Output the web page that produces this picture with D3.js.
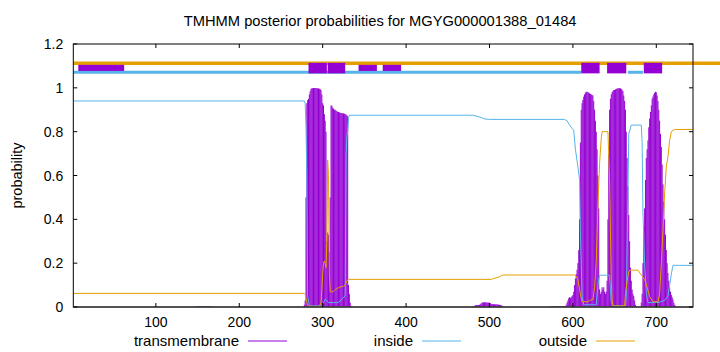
<!DOCTYPE html>
<html>
<head>
<meta charset="utf-8">
<script src="https://cdn.jsdelivr.net/npm/d3@7"></script>
<style>
  html, body { margin: 0; padding: 0; background: #fff; }
  svg { display: block; font-family: "Liberation Sans", Arial, sans-serif; }
</style>
</head>
<body>
<div id="chart"></div>
<script>
(function () {
  'use strict';

  // --- Data ---
  var title = 'TMHMM posterior probabilities for MGYG000001388_01484';
  var seqLength = 744;
  var xTicks = [100, 200, 300, 400, 500, 600, 700];
  var yTicks = [0, 0.2, 0.4, 0.6, 0.8, 1, 1.2];

  // Per-residue transmembrane probability, as [first residue, values...]
  var tmFaintStart = 148;
  var tmFaint = [0.002, 0.003, 0.003, 0.003, 0.003, 0.003, 0.003, 0.003, 0.003, 0.003,
                 0.003, 0.003, 0.003, 0.003, 0.003, 0.003, 0.003, 0.003, 0.003, 0.002];

  var tmAStart = 278;
  var tmA = [
    0.01, 0.03, 0.5, 0.93, 0.944, 0.95, 0.97, 0.985, 0.995, 0.998,
    0.998, 0.999, 0.999, 0.999, 0.999, 0.998, 0.998, 0.997, 0.996, 0.994,
    0.99, 0.97, 0.93, 0.92, 0.88, 0.85, 0.8, 0.3, 0.34, 0.33,
    0.25, 0.5, 0.92, 0.918, 0.91, 0.905, 0.9, 0.9, 0.895, 0.895,
    0.89, 0.89, 0.888, 0.886, 0.885, 0.885, 0.884, 0.883, 0.882, 0.88,
    0.878, 0.875, 0.87, 0.1, 0.06, 0.02, 0.005
  ];

  var tmBStart = 480;
  var tmB = [
    0.002, 0.003, 0.005, 0.008, 0.009, 0.009, 0.009, 0.009, 0.01, 0.012,
    0.016, 0.02, 0.02, 0.021, 0.021, 0.021, 0.021, 0.02, 0.02, 0.02,
    0.019, 0.017, 0.015, 0.013, 0.013, 0.013, 0.012, 0.012, 0.012, 0.012,
    0.011, 0.011, 0.01, 0.009, 0.008, 0.006, 0.003, 0.001
  ];

  var tmCStart = 574;
  var tmC = [
    0.004, 0.004, 0.004, 0.004, 0.004, 0.004, 0.004, 0.004, 0.004, 0.004,
    0.004, 0.004, 0.004, 0.004, 0.004, 0.004, 0.004, 0.004, 0.01, 0.02,
    0.03, 0.04, 0.045, 0.04, 0.045, 0.05, 0.055, 0.07, 0.1, 0.13,
    0.15, 0.17, 0.2, 0.26, 0.4, 0.75, 0.9, 0.93, 0.945, 0.96,
    0.97, 0.978, 0.982, 0.982, 0.98, 0.978, 0.975, 0.972, 0.97, 0.968,
    0.965, 0.94, 0.9, 0.85, 0.8, 0.72, 0.6, 0.45, 0.08, 0.06,
    0.07, 0.09, 0.08, 0.09, 0.07, 0.06, 0.07, 0.12, 0.4, 0.7,
    0.9, 0.95, 0.97, 0.98, 0.985, 0.99, 0.99, 0.993, 0.995, 0.997,
    0.998, 0.998, 0.998, 0.998, 0.995, 0.99, 0.985, 0.965, 0.94, 0.9,
    0.8, 0.68, 0.55, 0.42, 0.3, 0.18, 0.12, 0.08, 0.06, 0.05,
    0.03, 0.01, 0.003, 0, 0, 0, 0, 0, 0.02, 0.06,
    0.2, 0.37, 0.45, 0.58, 0.68, 0.72, 0.76, 0.82, 0.86, 0.89,
    0.92, 0.95, 0.96, 0.97, 0.977, 0.982, 0.98, 0.965, 0.94, 0.9,
    0.85, 0.79, 0.73, 0.65, 0.56, 0.48, 0.4, 0.33, 0.26, 0.2,
    0.155, 0.12, 0.09, 0.07, 0.055, 0.045, 0.035, 0.02, 0.01, 0.003
  ];

  // Inside / outside probability, [residue, probability]
  var insideProb = [
    [1, 0.94], [278, 0.94], [279, 0.93], [280, 0.82], [281, 0.6], [282, 0.05],
    [284, 0.005], [298, 0.005], [301, 0.02], [303, 0.035], [305, 0.03], [307, 0.02],
    [318, 0.02], [322, 0.03], [325, 0.045], [327, 0.05], [328, 0.69], [329, 0.78],
    [330, 0.8], [331, 0.86], [332, 0.875], [480, 0.875], [485, 0.87], [490, 0.865],
    [494, 0.858], [500, 0.856], [590, 0.856], [593, 0.85], [596, 0.83], [599, 0.815],
    [601, 0.807], [603, 0.72], [606, 0.64], [608, 0.58], [609, 0.35], [611, 0.05],
    [613, 0.01], [628, 0.01], [630, 0.1], [632, 0.145], [644, 0.145], [645, 0.08],
    [646, 0.02], [648, 0.005], [663, 0.005], [664, 0.05], [666, 0.5], [667, 0.79],
    [670, 0.83], [682, 0.83], [683, 0.75], [684, 0.43], [686, 0.2], [688, 0.06],
    [690, 0.02], [702, 0.02], [710, 0.03], [714, 0.05], [716, 0.1], [718, 0.15],
    [720, 0.19], [744, 0.19]
  ];

  var outsideProb = [
    [1, 0.062], [278, 0.062], [279, 0.058], [280, 0.04], [281, 0.02], [282, 0.008],
    [284, 0.003], [296, 0.003], [298, 0.02], [299, 0.08], [300, 0.15], [301, 0.2],
    [302, 0.21], [303, 0.2], [304, 0.18], [305, 0.3], [306, 0.67], [307, 0.6],
    [308, 0.15], [309, 0.07], [312, 0.068], [315, 0.08], [320, 0.09], [325, 0.095],
    [327, 0.1], [329, 0.12], [331, 0.126], [502, 0.126], [505, 0.13], [510, 0.135],
    [513, 0.14], [516, 0.146], [602, 0.146], [604, 0.14], [606, 0.126], [608, 0.08],
    [610, 0.04], [611, 0.024], [618, 0.024], [620, 0.03], [624, 0.035], [626, 0.09],
    [628, 0.21], [630, 0.46], [632, 0.655], [634, 0.77], [635, 0.8], [642, 0.8],
    [644, 0.58], [645, 0.35], [646, 0.12], [647, 0.03], [648, 0.005], [662, 0.005],
    [663, 0.06], [665, 0.12], [667, 0.16], [668, 0.168], [678, 0.168], [682, 0.146],
    [686, 0.126], [689, 0.09], [692, 0.047], [696, 0.024], [702, 0.024], [704, 0.06],
    [706, 0.2], [708, 0.35], [710, 0.52], [712, 0.64], [714, 0.686], [716, 0.76],
    [718, 0.8], [722, 0.81], [744, 0.81]
  ];

  // Predicted topology strip above the curves, [from, to] residues
  var outsideSegments = [[1, 780]];
  var insideSegments = [[1, 610], [666, 684]];
  var tmBoxes = [[283, 305], [306, 327], [610, 632], [641, 664], [685, 707]];
  var minorBoxes = [[7, 62], [343, 365], [372, 394]];

  var legendItems = ['transmembrane', 'inside', 'outside'];

  // --- Style ---
  var colors = { tm: '#9400d3', inside: '#56b4e9', outside: '#e69f00', axis: '#000' };
  var width = 720, height = 352;
  var margin = { top: 44, right: 27, bottom: 45, left: 73.3 };
  var innerW = width - margin.left - margin.right;
  var innerH = height - margin.top - margin.bottom;

  var svg = d3.select('#chart').append('svg')
    .attr('width', width)
    .attr('height', height);

  var x = d3.scaleLinear().domain([1, seqLength]).range([margin.left, margin.left + innerW]);
  var y = d3.scaleLinear().domain([0, 1.2]).range([margin.top + innerH, margin.top]);

  // --- Title ---
  svg.append('text')
    .attr('x', margin.left + innerW / 2 - 3)
    .attr('y', 26)
    .attr('text-anchor', 'middle')
    .attr('font-size', '14.7px')
    .attr('fill', '#000')
    .text(title);

  // --- Transmembrane impulses ---
  function toPoints(start, values) {
    return values.map(function (v, i) { return { pos: start + i, v: v }; });
  }
  var tmPoints = [].concat(
    toPoints(tmFaintStart, tmFaint),
    toPoints(tmAStart, tmA),
    toPoints(tmBStart, tmB),
    toPoints(tmCStart, tmC)
  );

  svg.append('g')
    .attr('stroke', colors.tm)
    .attr('stroke-width', 1)
    .selectAll('line')
    .data(tmPoints)
    .join('line')
    .attr('x1', function (d) { return x(d.pos); })
    .attr('x2', function (d) { return x(d.pos); })
    .attr('y1', y(0))
    .attr('y2', function (d) { return y(d.v); });

  // --- Inside / outside curves ---
  var line = d3.line()
    .x(function (d) { return x(d[0]); })
    .y(function (d) { return y(d[1]); });

  svg.append('path')
    .datum(insideProb)
    .attr('fill', 'none')
    .attr('stroke', colors.inside)
    .attr('stroke-width', 1)
    .attr('d', line);

  svg.append('path')
    .datum(outsideProb)
    .attr('fill', 'none')
    .attr('stroke', colors.outside)
    .attr('stroke-width', 1)
    .attr('d', line);

  // --- Topology strip ---
  var strip = svg.append('g');
  strip.selectAll('line.out')
    .data(outsideSegments)
    .join('line')
    .attr('class', 'out')
    .attr('x1', function (d) { return x(d[0]); })
    .attr('x2', function (d) { return x(d[1]); })
    .attr('y1', y(1.112))
    .attr('y2', y(1.112))
    .attr('stroke', colors.outside)
    .attr('stroke-width', 3.5);

  strip.selectAll('line.in')
    .data(insideSegments)
    .join('line')
    .attr('class', 'in')
    .attr('x1', function (d) { return x(d[0]); })
    .attr('x2', function (d) { return x(d[1]); })
    .attr('y1', y(1.071))
    .attr('y2', y(1.071))
    .attr('stroke', colors.inside)
    .attr('stroke-width', 3);

  strip.selectAll('rect.tm')
    .data(tmBoxes)
    .join('rect')
    .attr('class', 'tm')
    .attr('x', function (d) { return x(d[0]); })
    .attr('width', function (d) { return x(d[1]) - x(d[0]); })
    .attr('y', y(1.114))
    .attr('height', y(1.066) - y(1.114))
    .attr('fill', colors.tm);

  strip.selectAll('rect.minor')
    .data(minorBoxes)
    .join('rect')
    .attr('class', 'minor')
    .attr('x', function (d) { return x(d[0]); })
    .attr('width', function (d) { return x(d[1]) - x(d[0]); })
    .attr('y', y(1.105))
    .attr('height', y(1.077) - y(1.105))
    .attr('fill', colors.tm);

  // --- Frame and ticks ---
  var tickLen = 4;
  svg.append('rect')
    .attr('x', margin.left)
    .attr('y', margin.top)
    .attr('width', innerW)
    .attr('height', innerH)
    .attr('fill', 'none')
    .attr('stroke', colors.axis)
    .attr('stroke-width', 1);

  // gnuplot draws the zero line a little heavier
  svg.append('line')
    .attr('x1', margin.left).attr('x2', margin.left + innerW)
    .attr('y1', y(0)).attr('y2', y(0))
    .attr('stroke', '#444').attr('stroke-width', 1.6);

  var ticks = svg.append('g').attr('stroke', colors.axis).attr('stroke-width', 1);
  xTicks.forEach(function (t) {
    ticks.append('line').attr('x1', x(t)).attr('x2', x(t))
      .attr('y1', y(0)).attr('y2', y(0) - tickLen);
    ticks.append('line').attr('x1', x(t)).attr('x2', x(t))
      .attr('y1', y(1.2)).attr('y2', y(1.2) + tickLen);
  });
  yTicks.forEach(function (t) {
    ticks.append('line').attr('x1', margin.left).attr('x2', margin.left + tickLen)
      .attr('y1', y(t)).attr('y2', y(t));
    ticks.append('line').attr('x1', margin.left + innerW).attr('x2', margin.left + innerW - tickLen)
      .attr('y1', y(t)).attr('y2', y(t));
  });

  var labels = svg.append('g').attr('font-size', '14px').attr('fill', '#000');
  xTicks.forEach(function (t) {
    labels.append('text')
      .attr('x', x(t))
      .attr('y', y(0) + 20)
      .attr('text-anchor', 'middle')
      .text(t);
  });
  yTicks.forEach(function (t) {
    labels.append('text')
      .attr('x', margin.left - 10)
      .attr('y', y(t))
      .attr('dy', '0.36em')
      .attr('text-anchor', 'end')
      .text(d3.format('~g')(t));
  });

  labels.append('text')
    .attr('transform', 'translate(17,' + (margin.top + innerH / 2) + ') rotate(-90)')
    .attr('text-anchor', 'middle')
    .attr('dy', '0.35em')
    .attr('font-size', '14.5px')
    .text('probability');

  // --- Legend ---
  var legendRight = [239, 413, 587];
  var legendColors = [colors.tm, colors.inside, colors.outside];
  legendItems.forEach(function (name, i) {
    var g = svg.append('g');
    g.append('text')
      .attr('x', legendRight[i])
      .attr('y', 346)
      .attr('text-anchor', 'end')
      .attr('font-size', '15px')
      .text(name);
    g.append('line')
      .attr('x1', legendRight[i] + 9)
      .attr('x2', legendRight[i] + 48)
      .attr('y1', 341)
      .attr('y2', 341)
      .attr('stroke', legendColors[i])
      .attr('stroke-width', 1);
  });
})();
</script>
</body>
</html>
